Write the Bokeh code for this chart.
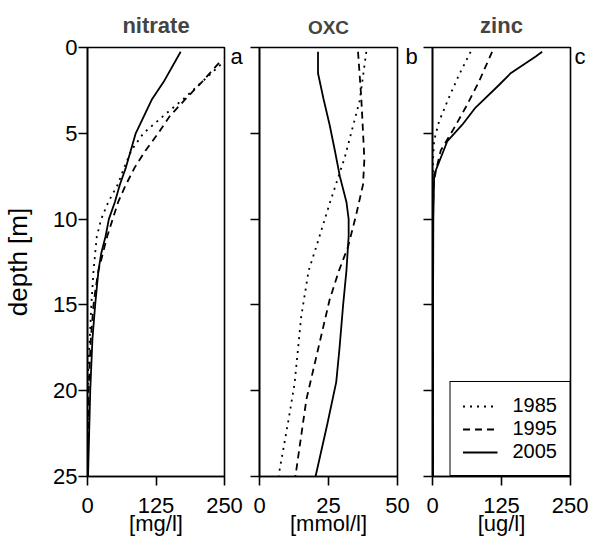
from bokeh.plotting import figure
from bokeh.layouts import row
from bokeh.models import Range1d, FixedTicker, Legend, LegendItem, LinearAxis
from bokeh.embed import file_html
from bokeh.resources import INLINE

FONT = "Liberation Sans"

years = ["1985", "1995", "2005"]
depth_ticks = [0, 5, 10, 15, 20, 25]

# ---- nitrate [mg/l] ----
nitrate_1985_depth = [1.0, 2, 3, 4, 5, 6, 7, 8, 9, 10, 11, 12, 13, 14, 15, 17, 19, 25]
nitrate_1985_value = [243, 209, 175, 138, 102, 80, 67, 55, 38, 25, 17, 14, 11, 9, 7, 4, 1, 0.5]
nitrate_1995_depth = [0.9, 2, 3, 4, 5, 6, 7, 8, 9, 10, 11, 12, 13, 14, 15, 17, 20, 25]
nitrate_1995_value = [240, 209, 179, 150, 129, 106, 86, 70, 56, 46, 36, 28, 20, 15, 11, 6, 2, 0.5]
nitrate_2005_depth = [0.25, 2, 3, 4, 5, 6, 7, 8, 9, 10, 11, 12, 13, 14, 15, 17, 20, 25]
nitrate_2005_value = [170, 139, 118, 103, 88, 79, 70, 59, 50, 39, 33, 25, 20, 17, 14, 9, 5, 1]

# ---- OXC [mmol/l] ----
oxc_1985_depth = [0.25, 3.1, 6.4, 9.1, 11.6, 13, 15.7, 19.6, 21.9, 24.6, 25]
oxc_1985_value = [38.7, 36.3, 30.9, 25.4, 20.6, 17.8, 15.1, 12.7, 10.3, 7.3, 7.0]
oxc_1995_depth = [0.25, 3, 6.5, 8, 9.7, 11.6, 13, 14.7, 17.6, 20.5, 25]
oxc_1995_value = [35.7, 36.9, 38.0, 37.5, 35.1, 32.1, 28.8, 25.4, 21.2, 17.0, 13.0]
oxc_2005_depth = [0.25, 1.5, 3, 4.5, 6, 7.5, 9, 10, 11, 13, 15, 17.5, 19.5, 22, 25]
oxc_2005_value = [21.2, 21.2, 23.2, 25.4, 27.3, 29.1, 31.5, 32.3, 32.3, 31.5, 30.3, 29.0, 27.8, 24.5, 20.3]

# ---- zinc [ug/l] ----
zinc_1985_depth = [0.25, 1.6, 2.9, 4.3, 5.4, 6.5, 10, 25]
zinc_1985_value = [69, 48, 30, 12, 3, 1, 0.5, 0.5]
zinc_1995_depth = [0.25, 2.0, 3.5, 4.87, 6.0, 7.2, 8, 10, 25]
zinc_1995_value = [108, 84, 60, 36, 15, 6, 2, 0.5, 0.5]
zinc_2005_depth = [0.25, 0.52, 1.5, 2.2, 3.5, 4.5, 5.45, 7.4, 10, 15, 25]
zinc_2005_value = [198.7, 187, 141.6, 120, 78, 54, 27, 3, 1.5, 1, 1]

dashes = {"1985": "2 5", "1995": "7 5", "2005": "solid"}

TICK_FS = "22px"
LW = 1.8
AX_LW = 1.6
LETTER_DEPTH = 0.55


def make_fig(title, title_fs, xmax, xticks, xlabel, letter, letter_standoff,
             frame_w, left, right, show_ylabels, series):
    p = figure(frame_width=frame_w, height=538,
               x_range=Range1d(0, xmax), y_range=Range1d(25, 0),
               output_backend="svg", toolbar_location=None,
               min_border_left=left, min_border_right=right,
               min_border_top=42, min_border_bottom=10,
               title=title)
    p.title.text_font = FONT
    p.title.text_font_size = title_fs
    p.title.text_font_style = "bold"
    p.title.align = "center"
    p.title.standoff = 20
    p.xgrid.visible = False
    p.ygrid.visible = False
    p.outline_line_color = "black"
    p.outline_line_width = AX_LW
    p.outline_line_alpha = 1
    p.background_fill_color = "white"
    p.border_fill_color = "white"

    for ax in (p.xaxis[0], p.yaxis[0]):
        ax.axis_line_color = "black"
        ax.axis_line_width = AX_LW
        ax.major_tick_line_color = "black"
        ax.major_tick_line_width = AX_LW
        ax.major_tick_in = 0
        ax.major_tick_out = 9
        ax.minor_tick_line_color = None
        ax.major_label_text_font = FONT
        ax.major_label_text_font_size = TICK_FS
        ax.major_label_text_color = "black"
        ax.axis_label_text_font = FONT
        ax.axis_label_text_font_style = "normal"
        ax.axis_label_text_color = "black"

    p.xaxis[0].ticker = FixedTicker(ticks=xticks)
    p.xaxis[0].axis_label = xlabel
    p.xaxis[0].axis_label_text_font_size = "22px"
    p.xaxis[0].major_label_standoff = 12
    p.xaxis[0].axis_label_standoff = -5

    p.yaxis[0].ticker = FixedTicker(ticks=depth_ticks)
    if show_ylabels:
        p.yaxis[0].axis_label = "depth [m]"
        p.yaxis[0].axis_label_text_font_size = "26px"
        p.yaxis[0].major_label_standoff = 1
        p.yaxis[0].axis_label_standoff = 17
    else:
        p.yaxis[0].major_label_overrides = {t: "" for t in depth_ticks}
        p.yaxis[0].major_label_standoff = 0

    # panel letter, drawn as the single label of a bare right-hand axis
    lab = LinearAxis(ticker=FixedTicker(ticks=[LETTER_DEPTH]),
                     major_label_overrides={LETTER_DEPTH: letter},
                     axis_line_color=None, major_tick_line_color=None,
                     minor_tick_line_color=None,
                     major_tick_in=0, major_tick_out=0,
                     major_label_standoff=letter_standoff,
                     major_label_text_font=FONT,
                     major_label_text_font_size="22px",
                     major_label_text_color="black")
    p.add_layout(lab, "right")

    renderers = []
    for yr, (d, v) in zip(years, series):
        r = p.line(v, d, line_color="black", line_width=LW,
                   line_dash=dashes[yr])
        renderers.append(r)
    return p, renderers


p1, _ = make_fig("nitrate", "22px", 250, [0, 125, 250], "[mg/l]", "a", 6,
                 137, 79, 0, True,
                 [(nitrate_1985_depth, nitrate_1985_value),
                  (nitrate_1995_depth, nitrate_1995_value),
                  (nitrate_2005_depth, nitrate_2005_value)])
p2, _ = make_fig("OXC", "19px", 50, [0, 25, 50], "[mmol/l]", "b", 8,
                 138, 14, 0, False,
                 [(oxc_1985_depth, oxc_1985_value),
                  (oxc_1995_depth, oxc_1995_value),
                  (oxc_2005_depth, oxc_2005_value)])
p3, rs = make_fig("zinc", "22px", 250, [0, 125, 250], "[ug/l]", "c", 4,
                  138, 12, 0, False,
                  [(zinc_1985_depth, zinc_1985_value),
                   (zinc_1995_depth, zinc_1995_value),
                   (zinc_2005_depth, zinc_2005_value)])

legend = Legend(items=[LegendItem(label=yr, renderers=[r]) for yr, r in zip(years, rs)],
                location="bottom_right", margin=0, padding=12, spacing=0,
                glyph_width=35, glyph_height=20, label_height=20,
                label_width=40, label_standoff=15,
                label_text_font=FONT, label_text_font_size="20px",
                label_text_color="black",
                border_line_color="black", border_line_width=AX_LW,
                border_line_alpha=1, background_fill_color="white",
                background_fill_alpha=1)
p3.add_layout(legend)

layout = row(p1, p2, p3)
open("out.html", "w").write(file_html(layout, INLINE))
